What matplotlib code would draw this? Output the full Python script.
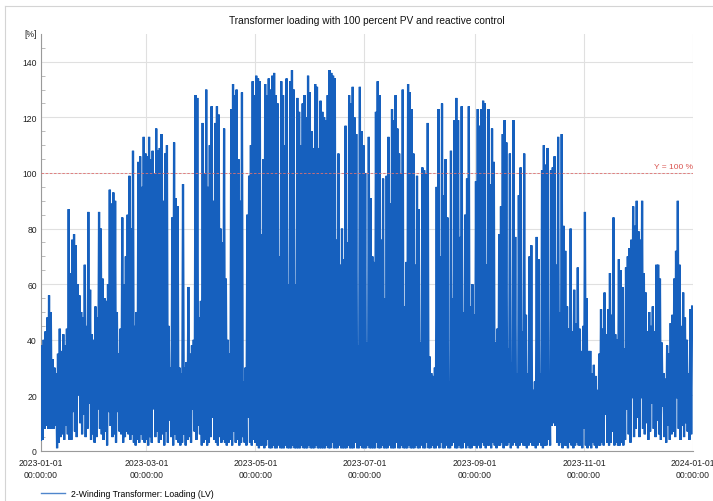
import numpy as np
import matplotlib.pyplot as plt
from matplotlib.lines import Line2D

plt.rcParams['font.family'] = ['Liberation Sans', 'DejaVu Sans']

# daily maximum transformer loading [%] (midday), one list per month of 2023
peak_jan = [38, 40, 43, 48, 56, 50, 33, 30, 28, 35, 44, 36, 42, 38, 44, 87, 64, 76, 78, 74,
            60, 56, 50, 48, 67, 45, 86, 58, 42, 40, 52]
peak_feb = [48, 86, 80, 62, 55, 54, 60, 94, 89, 93, 90, 50, 35, 44, 84, 60, 70, 85, 99, 80,
            108, 45, 50, 104, 106, 95, 113, 107]
peak_mar = [106, 113, 105, 108, 100, 116, 108, 109, 114, 90, 107, 110, 45, 30, 84, 111, 91, 88, 30, 28,
            96, 30, 32, 59, 35, 38, 40, 128, 127, 48, 54]
peak_apr = [118, 100, 130, 95, 110, 124, 90, 118, 124, 121, 80, 75, 116, 62, 40, 35, 123, 132, 128, 130,
            105, 90, 129, 25, 30, 85, 99, 110, 133, 128]
peak_may = [135, 134, 133, 78, 105, 132, 128, 134, 130, 135, 136, 128, 125, 70, 133, 128, 110, 134, 60, 133,
            137, 130, 60, 127, 122, 110, 125, 128, 120, 135, 129]
peak_jun = [115, 109, 132, 131, 109, 126, 122, 120, 119, 128, 137, 136, 135, 134, 76, 107, 67, 80, 69, 117,
            75, 128, 125, 131, 120, 114, 38, 131, 115, 110]
peak_jul = [100, 39, 113, 91, 70, 68, 122, 133, 128, 76, 98, 55, 99, 113, 89, 123, 119, 128, 116, 107,
            100, 130, 52, 68, 132, 129, 123, 107, 67, 99, 87]
peak_aug = [39, 102, 101, 100, 118, 34, 28, 27, 30, 95, 123, 70, 125, 92, 105, 84, 25, 108, 55, 119,
            127, 119, 77, 124, 50, 85, 98, 124, 52, 60, 49]
peak_sep = [97, 123, 117, 123, 126, 125, 67, 123, 96, 116, 104, 39, 44, 78, 88, 114, 119, 111, 37, 107,
            32, 119, 77, 28, 92, 102, 43, 107, 49, 28]
peak_oct = [70, 74, 22, 25, 77, 69, 28, 101, 110, 103, 109, 24, 101, 102, 106, 67, 113, 50, 114, 81,
            72, 52, 44, 80, 43, 58, 46, 66, 44, 36, 45]
peak_nov = [86, 55, 36, 36, 28, 31, 27, 22, 35, 51, 44, 57, 42, 51, 64, 49, 84, 42, 40, 69,
            65, 59, 37, 66, 70, 73, 76, 88, 81, 90]
peak_dec = [79, 76, 90, 64, 57, 43, 50, 45, 52, 43, 67, 67, 62, 39, 28, 26, 38, 35, 46, 49,
            62, 72, 90, 67, 45, 57, 48, 40, 28, 51, 52]

# daily minimum loading [%] (night / zero crossing of the PV feed-in)
low_jan = [4, 4, 8, 9, 8, 8, 8, 8, 9, 1, 3, 5, 6, 4, 9, 6, 4, 4, 14, 7, 5, 20, 10, 6, 13, 5, 8, 17, 4, 6, 3]
low_feb = [5, 15, 8, 6, 4, 7, 2, 14, 9, 5, 6, 3, 14, 7, 6, 3, 5, 7, 6, 4, 6, 3, 2, 4, 3, 6, 4, 3]
low_mar = [4, 2, 5, 3, 15, 5, 7, 3, 4, 6, 2, 7, 3, 11, 5, 2, 6, 4, 3, 2, 3, 6, 2, 4, 5, 3, 15, 7, 4, 9, 6]
low_apr = [2, 3, 4, 2, 3, 5, 12, 4, 3, 2, 5, 3, 4, 3, 2, 3, 4, 2, 7, 3, 4, 2, 3, 5, 3, 2, 12, 3, 2, 4]
low_may = [3, 2, 1, 2, 2, 1, 2, 4, 1, 1, 2, 1, 1, 2, 1, 1, 1, 2, 1, 1, 1, 2, 1, 1, 1, 1, 2, 1, 1, 1, 2]
low_jun = [1, 1, 1, 2, 1, 1, 1, 1, 1, 2, 1, 1, 3, 1, 1, 1, 2, 1, 1, 1, 1, 2, 1, 1, 1, 3, 1, 1, 2, 1]
low_jul = [1, 1, 2, 1, 1, 1, 1, 3, 1, 1, 2, 1, 1, 1, 2, 1, 1, 1, 3, 1, 1, 2, 1, 1, 1, 2, 1, 1, 1, 2, 1]
low_aug = [1, 2, 1, 1, 3, 1, 1, 2, 1, 1, 2, 1, 3, 1, 1, 2, 1, 1, 2, 3, 1, 1, 2, 1, 1, 3, 1, 2, 1, 1, 2]
low_sep = [2, 1, 2, 1, 3, 2, 1, 2, 2, 1, 3, 2, 1, 2, 2, 3, 1, 2, 2, 3, 1, 2, 3, 2, 1, 2, 3, 2, 2, 1]
low_oct = [2, 3, 2, 2, 1, 2, 3, 2, 1, 2, 2, 4, 2, 9, 10, 9, 3, 2, 3, 1, 2, 2, 1, 3, 2, 1, 2, 3, 2, 2, 1]
low_nov = [8, 2, 1, 2, 1, 3, 2, 1, 2, 2, 3, 2, 13, 3, 2, 3, 7, 2, 3, 2, 2, 3, 2, 4, 15, 6, 3, 19, 5, 8]
low_dec = [12, 5, 19, 8, 6, 10, 4, 7, 17, 8, 5, 11, 6, 4, 16, 5, 3, 9, 4, 6, 7, 5, 19, 8, 4, 9, 5, 10, 7, 4, 6]

tick_dates = ['2023-01-01', '2023-03-01', '2023-05-01', '2023-07-01',
              '2023-09-01', '2023-11-01', '2024-01-01']
limit = 100

peaks = np.array(peak_jan + peak_feb + peak_mar + peak_apr + peak_may + peak_jun +
                 peak_jul + peak_aug + peak_sep + peak_oct + peak_nov + peak_dec, dtype=float)
lows = np.array(low_jan + low_feb + low_mar + low_apr + low_may + low_jun +
                low_jul + low_aug + low_sep + low_oct + low_nov + low_dec, dtype=float)

n_days = len(peaks)
start = np.datetime64('2023-01-01T00', 'h')
t_low = start + (np.arange(n_days) * 24).astype('timedelta64[h]')
t_peak = t_low + np.timedelta64(12, 'h')

# night minimum followed by midday maximum for every day
t = np.column_stack([t_low, t_peak]).ravel()
y = np.column_stack([lows, peaks]).ravel()

fig = plt.figure(figsize=(7.13, 5.02), dpi=100)
ax = fig.add_axes([41/713, 1 - 452/502, 652/713, 417/502])

blue = '#1660be'
ax.plot(t, y, color=blue, lw=1.6, solid_joinstyle='miter',
        label='2-Winding Transformer: Loading (LV)', zorder=3)

ax.axhline(limit, color='#e07070', lw=0.6, ls=(0, (3, 2)), zorder=4)
ax.text(1.0, (limit + 1) / 150, 'Y = 100 %', transform=ax.transAxes, ha='right', va='bottom',
        color='#d9534f', fontsize=6)

ax.set_xlim(np.datetime64('2023-01-01'), np.datetime64('2024-01-01'))
ax.set_ylim(0, 150)

xt = [np.datetime64(d) for d in tick_dates]
ax.set_xticks(xt, [d + '\n00:00:00' for d in tick_dates])
for lab in ax.get_xticklabels():
    lab.set_linespacing(1.45)
ax.set_yticks(np.arange(0, 141, 20))
ax.set_yticks([v for v in range(5, 150, 5) if v % 20], minor=True)
ax.tick_params(axis='both', which='major', length=0, labelsize=6.2, colors='#222222')
ax.tick_params(axis='x', pad=5)
ax.tick_params(axis='y', pad=3)
ax.tick_params(axis='y', which='minor', direction='in', length=3, color='#b0b0b0')

ax.grid(True, which='major', color='#e0e0e0', lw=0.8, zorder=0)
ax.set_axisbelow(True)
for side in ['top', 'right']:
    ax.spines[side].set_visible(False)
for side in ['left', 'bottom']:
    ax.spines[side].set_color('#9a9a9a')
    ax.spines[side].set_linewidth(0.8)

fig.text(37/713, 1 - 35/502, '[%]', ha='right', va='center', fontsize=6.2, color='#222222')
fig.text(367/713, 1 - 21/502, 'Transformer loading with 100 percent PV and reactive control',
         ha='center', va='center', fontsize=7.3, color='#111111')

leg = fig.legend(loc='center left', bbox_to_anchor=(41/713, 1 - 495/502), frameon=False,
                 fontsize=6.2, handlelength=2.75, handletextpad=0.7, borderpad=0, borderaxespad=0)
for h in leg.get_lines():
    h.set_linewidth(1.0)
    h.set_color('#4f86cc')

# light frame around the chart panel
fig.add_artist(Line2D([5/713, 1], [1 - 7/502, 1 - 7/502], transform=fig.transFigure,
                      color='#d4d4d4', lw=0.8))
fig.add_artist(Line2D([5/713, 5/713], [0, 1 - 7/502], transform=fig.transFigure,
                      color='#d4d4d4', lw=0.8))

fig.savefig('out.png', dpi=100)
